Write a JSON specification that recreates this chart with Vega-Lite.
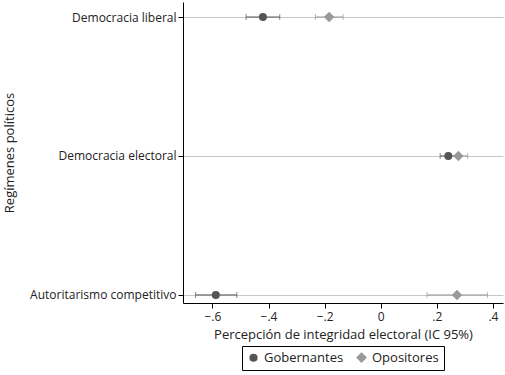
{
  "$schema": "https://vega.github.io/schema/vega-lite/v6.json",
  "width": 320,
  "height": 301,
  "autosize": "none",
  "padding": {"left": 183, "top": 2, "right": 2, "bottom": 72},
  "config": {
    "font": "Open Sans",
    "view": {"stroke": null},
    "axis": {"labelFont": "Open Sans", "titleFont": "Open Sans", "labelColor": "#222", "titleColor": "#222", "titleFontWeight": "normal"}
  },
  "data": {
    "values": [
      {"regimen": "Democracia liberal", "grupo": "Gobernantes", "yv": 3, "est": -0.42, "lo": -0.48, "hi": -0.36},
      {"regimen": "Democracia liberal", "grupo": "Opositores", "yv": 3, "est": -0.184, "lo": -0.233, "hi": -0.134},
      {"regimen": "Democracia electoral", "grupo": "Gobernantes", "yv": 2, "est": 0.241, "lo": 0.212, "hi": 0.27},
      {"regimen": "Democracia electoral", "grupo": "Opositores", "yv": 2, "est": 0.277, "lo": 0.245, "hi": 0.31},
      {"regimen": "Autoritarismo competitivo", "grupo": "Gobernantes", "yv": 1, "est": -0.588, "lo": -0.66, "hi": -0.513},
      {"regimen": "Autoritarismo competitivo", "grupo": "Opositores", "yv": 1, "est": 0.272, "lo": 0.165, "hi": 0.381}
    ]
  },
  "encoding": {
    "y": {
      "field": "yv", "type": "quantitative",
      "scale": {"domain": [0.942, 3.108], "nice": false, "zero": false},
      "axis": {
        "values": [1, 2, 3],
        "labelExpr": "datum.value == 3 ? 'Democracia liberal' : datum.value == 2 ? 'Democracia electoral' : 'Autoritarismo  competitivo'",
        "title": "Regímenes políticos",
        "titleFontSize": 13,
        "labelFontSize": 12,
        "grid": true, "gridColor": "#c8c8c8", "gridWidth": 1,
        "domainColor": "#000", "tickColor": "#000", "tickSize": 5,
        "labelPadding": 2,
        "titlePadding": 10
      }
    },
    "color": {"field": "grupo", "type": "nominal", "scale": {"domain": ["Gobernantes", "Opositores"], "range": ["#555555", "#999999"]},
      "legend": {"orient": "none", "legendX": 59, "legendY": 344, "direction": "horizontal", "title": null, "strokeColor": "#000", "padding": 5, "labelFontSize": 13, "labelFont": "Open Sans", "symbolSize": 45, "columnPadding": 10, "labelColor": "#222", "symbolOpacity": 1}}
  },
  "layer": [
    {
      "mark": {"type": "errorbar", "ticks": {"size": 6}, "thickness": 1},
      "encoding": {
        "x": {"field": "lo", "type": "quantitative",
          "scale": {"domain": [-0.705, 0.436], "nice": false, "zero": false},
          "axis": {
            "values": [-0.6, -0.4, -0.2, 0, 0.2, 0.4],
            "labelExpr": "datum.value == 0 ? '0' : replace(format(datum.value, '.1f'), '0.', '.')",
            "title": "Percepción de integridad electoral (IC 95%)",
            "titleFontSize": 13, "labelFontSize": 12,
            "grid": false, "domainColor": "#000", "tickColor": "#000", "tickSize": 5,
            "labelPadding": 3, "titlePadding": 6
          }},
        "x2": {"field": "hi"}
      }
    },
    {
      "mark": {"type": "point", "filled": true, "opacity": 1, "size": 64},
      "encoding": {
        "x": {"field": "est", "type": "quantitative"},
        "shape": {"field": "grupo", "type": "nominal", "scale": {"domain": ["Gobernantes", "Opositores"], "range": ["circle", "M0,-1.3L1.3,0L0,1.3L-1.3,0Z"]},
          "legend": {"orient": "none", "legendX": 59, "legendY": 344, "direction": "horizontal", "title": null, "strokeColor": "#000", "padding": 5, "labelFontSize": 13, "labelFont": "Open Sans", "symbolSize": 45, "columnPadding": 10, "labelColor": "#222", "symbolOpacity": 1}}
      }
    }
  ]
}
